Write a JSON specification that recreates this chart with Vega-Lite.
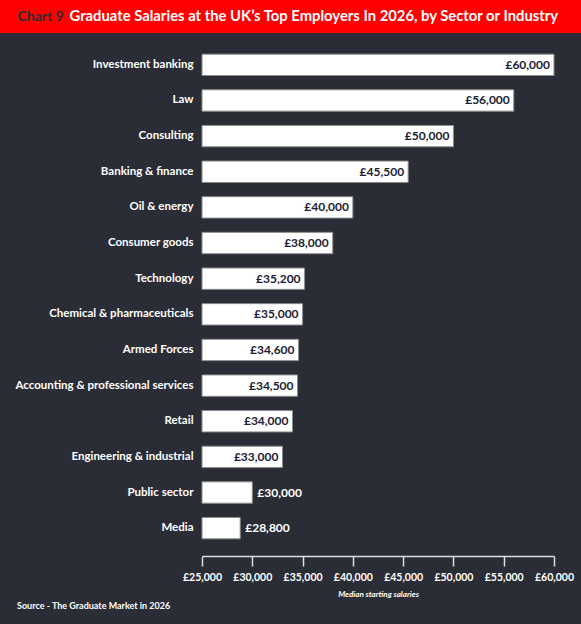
{
  "$schema": "https://vega.github.io/schema/vega-lite/v6.json",
  "background": "#2a2d35",
  "padding": {"left": 0, "top": 0, "right": 0, "bottom": 14},
  "spacing": 14,
  "title": {
    "text": "Source - The Graduate Market in 2026",
    "orient": "bottom",
    "anchor": "start",
    "frame": "bounds",
    "dx": 17,
    "offset": 3,
    "font": "Lato",
    "fontSize": 9,
    "fontWeight": "bold",
    "color": "white"
  },
  "vconcat": [
    {
      "width": 581,
      "height": 33,
      "view": {"fill": "#ff0000", "stroke": null},
      "data": {
        "values": [
          {
            "chart": "Chart 9",
            "heading": "Graduate Salaries at the UK’s Top Employers In 2026, by Sector or Industry"
          }
        ]
      },
      "layer": [
        {
          "mark": {
            "type": "text",
            "align": "left",
            "baseline": "middle",
            "dx": -273,
            "font": "Lato",
            "fontSize": 14,
            "fontWeight": "bold",
            "color": "#2a2d35"
          },
          "encoding": {"text": {"field": "chart"}}
        },
        {
          "mark": {
            "type": "text",
            "align": "left",
            "baseline": "middle",
            "dx": -221,
            "font": "Lato",
            "fontSize": 14.8,
            "fontWeight": "bold",
            "color": "white"
          },
          "encoding": {"text": {"field": "heading"}}
        }
      ]
    },
    {
      "width": 581,
      "height": 499,
      "view": {"stroke": null},
      "data": {
        "values": [
          {"sector": "Investment banking", "salary": 60000},
          {"sector": "Law", "salary": 56000},
          {"sector": "Consulting", "salary": 50000},
          {"sector": "Banking & finance", "salary": 45500},
          {"sector": "Oil & energy", "salary": 40000},
          {"sector": "Consumer goods", "salary": 38000},
          {"sector": "Technology", "salary": 35200},
          {"sector": "Chemical & pharmaceuticals", "salary": 35000},
          {"sector": "Armed Forces", "salary": 34600},
          {"sector": "Accounting & professional services", "salary": 34500},
          {"sector": "Retail", "salary": 34000},
          {"sector": "Engineering & industrial", "salary": 33000},
          {"sector": "Public sector", "salary": 30000},
          {"sector": "Media", "salary": 28800}
        ]
      },
      "transform": [
        {"calculate": "'£' + format(datum.salary, ',')", "as": "label"}
      ],
      "encoding": {
        "y": {
          "field": "sector",
          "type": "nominal",
          "sort": null,
          "scale": {"paddingInner": 0.4, "paddingOuter": 0.2},
          "axis": {
            "title": null,
            "domain": false,
            "ticks": false,
            "labelPadding": -193,
            "labelColor": "white",
            "labelFont": "Lato",
            "labelFontSize": 11.5,
            "labelFontWeight": "bold",
            "labelLimit": 300,
            "minExtent": 0,
            "maxExtent": 0
          }
        },
        "x": {
          "field": "salary",
          "type": "quantitative",
          "scale": {
            "domain": [25000, 60000],
            "range": [202, 554],
            "zero": false,
            "nice": false
          },
          "axis": {
            "title": "Median starting salaries",
            "values": [25000, 30000, 35000, 40000, 45000, 50000, 55000, 60000],
            "labelExpr": "'£' + format(datum.value, ',')",
            "labelOverlap": false,
            "labelFlush": false,
            "grid": false,
            "offset": 10,
            "tickSize": 10,
            "tickWidth": 1.5,
            "tickColor": "#dddddd",
            "domainColor": "#dddddd",
            "domainWidth": 1.5,
            "labelPadding": 6,
            "labelColor": "white",
            "labelFont": "Lato",
            "labelFontSize": 10.5,
            "labelFontWeight": "bold",
            "titleFont": "Lato",
            "titleFontSize": 8,
            "titleFontStyle": "italic",
            "titleFontWeight": "bold",
            "titleColor": "white",
            "titlePadding": 8
          }
        }
      },
      "layer": [
        {
          "mark": {
            "type": "bar",
            "fill": "white",
            "stroke": "#8a8a8a",
            "strokeWidth": 1
          },
          "encoding": {"x2": {"datum": 25000}}
        },
        {
          "transform": [{"filter": "datum.salary > 30000"}],
          "mark": {
            "type": "text",
            "align": "right",
            "baseline": "middle",
            "dx": -4,
            "font": "Lato",
            "fontSize": 12,
            "fontWeight": "bold",
            "color": "#1c2233"
          },
          "encoding": {"text": {"field": "label"}}
        },
        {
          "transform": [{"filter": "datum.salary <= 30000"}],
          "mark": {
            "type": "text",
            "align": "left",
            "baseline": "middle",
            "dx": 5,
            "font": "Lato",
            "fontSize": 12,
            "fontWeight": "bold",
            "color": "white"
          },
          "encoding": {"text": {"field": "label"}}
        }
      ]
    }
  ]
}
